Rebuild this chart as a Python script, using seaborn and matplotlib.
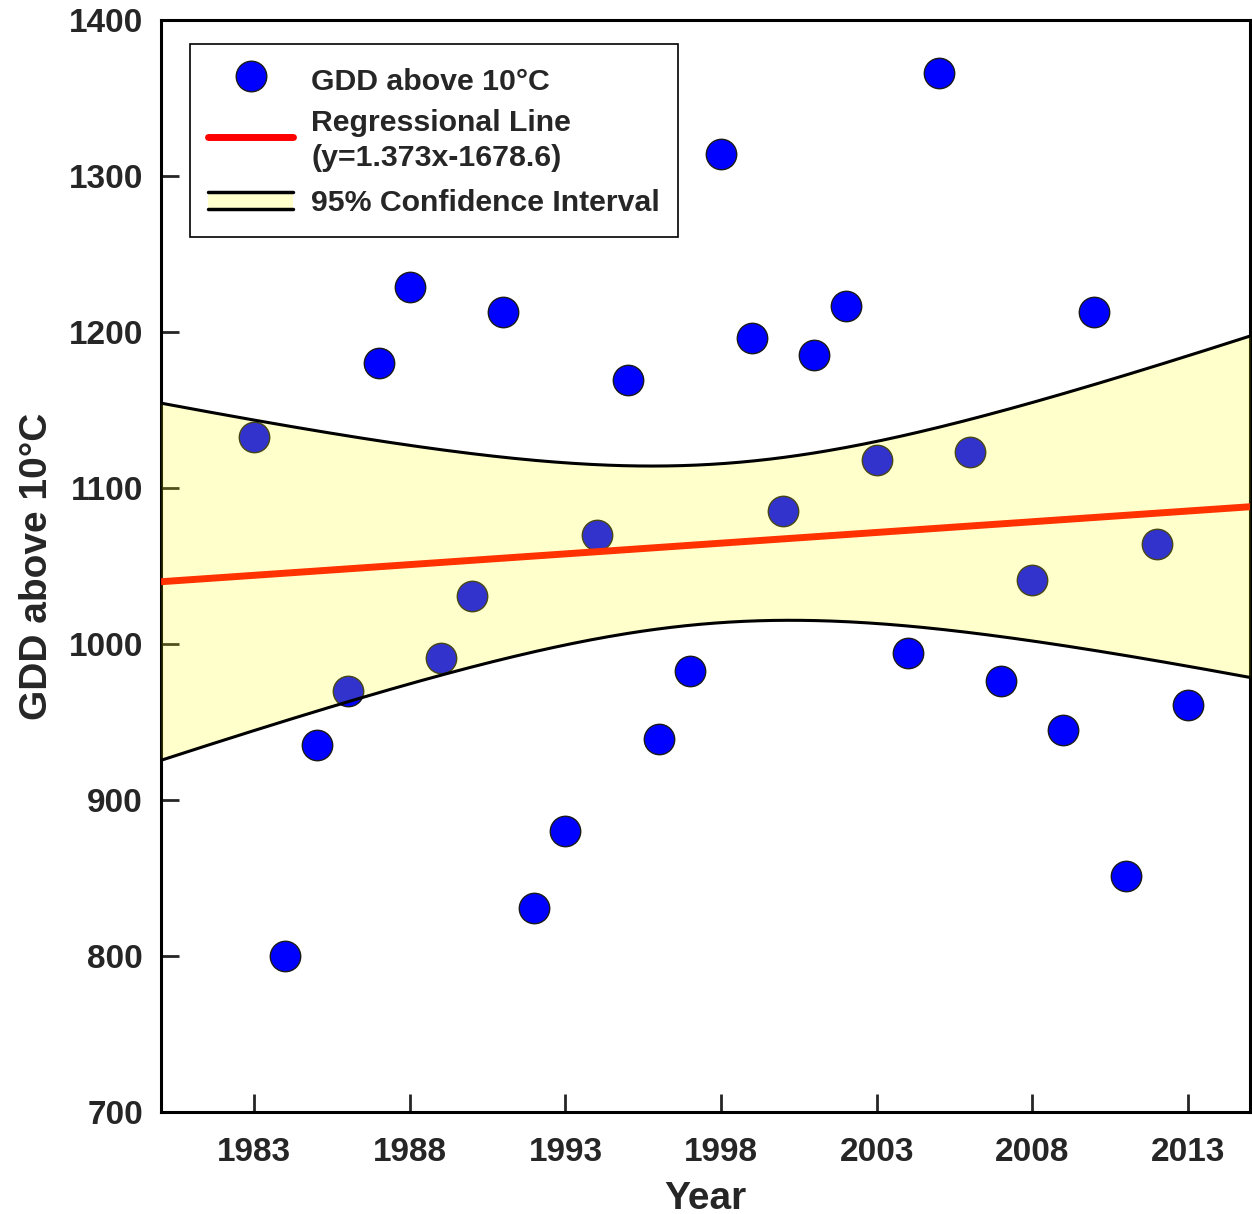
import numpy as np
import matplotlib
matplotlib.use("Agg")
import matplotlib.pyplot as plt
import seaborn as sns
from matplotlib.lines import Line2D
from matplotlib.patches import Rectangle
from matplotlib.legend_handler import HandlerBase

# ---- data ----
years = list(range(1983, 2014))
gdd = [1133, 800, 935, 970, 1180, 1229, 991, 1031, 1213, 831,
       880, 1070, 1169, 939, 983, 1314, 1196, 1085, 1185, 1217,
       1118, 994, 1366, 1123, 976, 1041, 945, 1213, 851, 1064, 961]
slope = 1.373
intercept = -1678.6
x_limits = [1980, 2015]
y_limits = [700, 1400]
x_ticks = [1983, 1988, 1993, 1998, 2003, 2008, 2013]
y_ticks = [700, 800, 900, 1000, 1100, 1200, 1300, 1400]
z_crit = 1.96  # 95% two-sided

sns.set_style("ticks")
plt.rcParams["font.family"] = ["Liberation Sans", "DejaVu Sans"]
plt.rcParams["font.weight"] = "bold"
plt.rcParams["axes.labelweight"] = "bold"

fig = plt.figure(figsize=(12.52, 12.14), dpi=100)
ax = fig.add_axes([0.1286, 0.0840, 0.8698, 0.8995])

x = np.array(years, dtype=float)
y = np.array(gdd, dtype=float)
n = len(x)
resid = y - (slope * x + intercept)
s = np.sqrt(np.sum(resid ** 2) / (n - 2))
xbar = x.mean()
sxx = np.sum((x - xbar) ** 2)
grid = np.linspace(x_limits[0], x_limits[1], 300)
fit = slope * grid + intercept
half = z_crit * s * np.sqrt(1.0 / n + (grid - xbar) ** 2 / sxx)
lower = fit - half
upper = fit + half

sns.scatterplot(x=years, y=gdd, s=480, color="#0000ff", edgecolor="#1a1a1a",
                linewidth=1.0, zorder=2, ax=ax, legend=False)
sns.lineplot(x=grid, y=fit, color="#ff0000", lw=5, zorder=3, ax=ax)
ax.fill_between(grid, lower, upper, color="#ffff00", alpha=0.2, lw=0, zorder=4)
sns.lineplot(x=grid, y=upper, color="black", lw=2.2, zorder=5, ax=ax)
sns.lineplot(x=grid, y=lower, color="black", lw=2.2, zorder=5, ax=ax)

ax.set_xlim(*x_limits)
ax.set_ylim(*y_limits)
ax.set_xticks(x_ticks)
ax.set_yticks(y_ticks)
ax.tick_params(axis="both", direction="in", length=13, width=2, labelsize=24,
               top=False, right=False)
ax.tick_params(axis="x", pad=18)
ax.tick_params(axis="y", pad=13)
for lab in ax.get_xticklabels() + ax.get_yticklabels():
    lab.set_fontweight("bold")
for sp in ax.spines.values():
    sp.set_linewidth(2.2)
    sp.set_color("black")
    sp.set_visible(True)

ax.set_xlabel("Year", fontsize=28, fontweight="bold", labelpad=9)
ax.set_ylabel("GDD above 10°C", fontsize=28, fontweight="bold", labelpad=10)


class CIHandler(HandlerBase):
    def create_artists(self, legend, orig_handle, xdescent, ydescent,
                       width, height, fontsize, trans):
        yc = -ydescent + height / 2.0
        h = fontsize * 0.57
        y0 = yc - h / 2.0
        rect = Rectangle((-xdescent, y0), width, h, facecolor="#ffffcc",
                         edgecolor="none", transform=trans)
        top = Line2D([-xdescent, -xdescent + width], [y0 + h, y0 + h],
                     color="black", lw=2.5, transform=trans)
        bot = Line2D([-xdescent, -xdescent + width], [y0, y0],
                     color="black", lw=2.5, transform=trans)
        return [rect, top, bot]


class CIProxy:
    pass


h_pts = Line2D([], [], marker="o", ls="none", markersize=22,
               markerfacecolor="#0000ff", markeredgecolor="#1a1a1a",
               markeredgewidth=1)
h_line = Line2D([], [], color="#ff0000", lw=5, solid_capstyle="round")
h_ci = CIProxy()

leg = ax.legend([h_pts, h_line, h_ci],
                ["GDD above 10°C", "Regressional Line\n(y=1.373x-1678.6)",
                 "95% Confidence Interval"],
                handler_map={CIProxy: CIHandler()},
                loc="upper left", bbox_to_anchor=(0.0266, 0.978),
                borderaxespad=0, fontsize=21.8, frameon=True, fancybox=False,
                edgecolor="black", framealpha=1, handlelength=2.8,
                handleheight=1.45, handletextpad=0.6, labelspacing=0.36,
                borderpad=0.6)
leg.get_frame().set_linewidth(1.2)
for t in leg.get_texts():
    t.set_fontweight("bold")
    t.set_linespacing(1.3)
leg.set_zorder(10)

fig.savefig("out.png", dpi=100)
